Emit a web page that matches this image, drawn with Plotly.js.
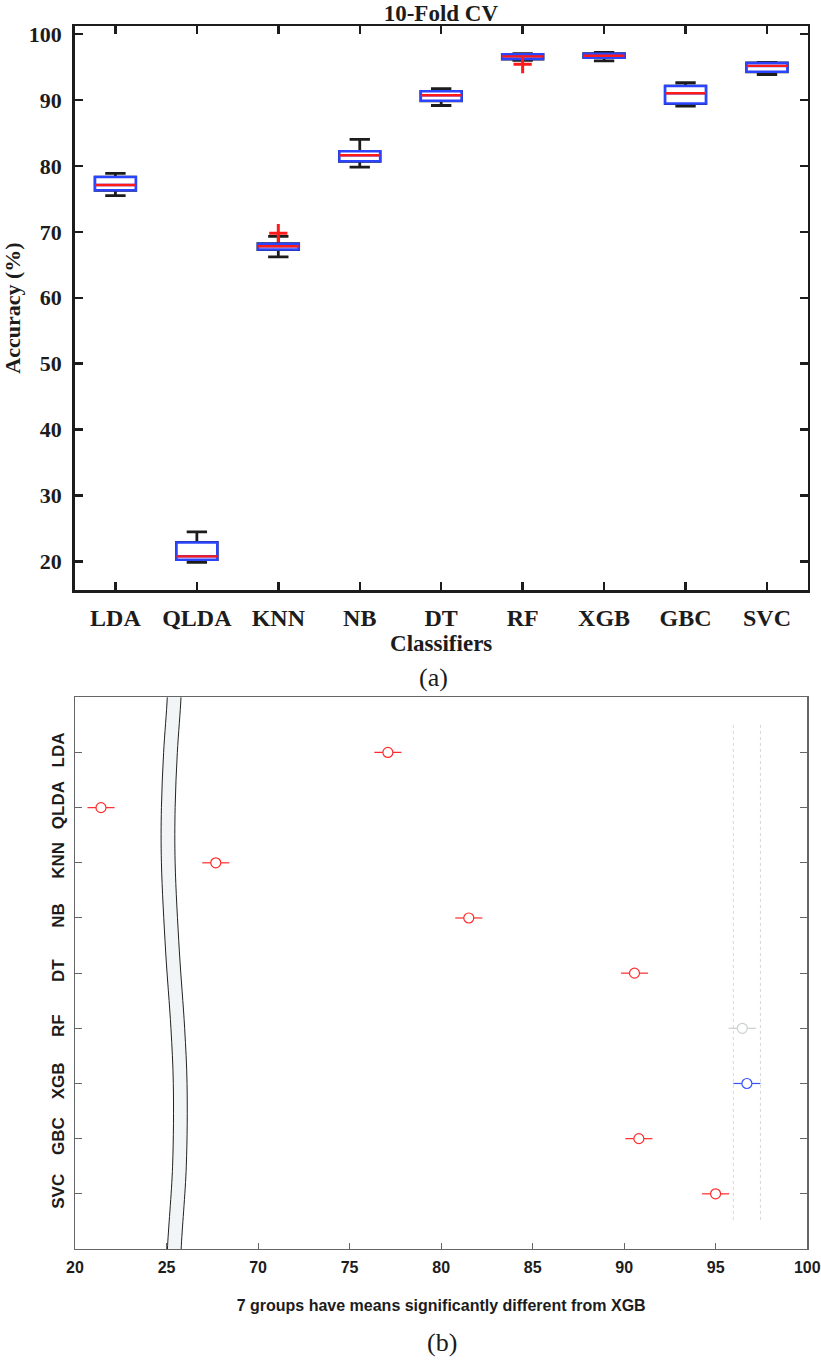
<!DOCTYPE html>
<html>
<head>
<meta charset="utf-8">
<script src="https://cdn.plot.ly/plotly-3.0.1.min.js"></script>
<style>html,body{margin:0;padding:0;background:#fff;}#chart{width:821px;height:1360px;}</style>
</head>
<body>
<div id="chart"></div>
<script>
// ---------- (a) 10-fold CV box plot ----------
const categories = ['LDA', 'QLDA', 'KNN', 'NB', 'DT', 'RF', 'XGB', 'GBC', 'SVC'];
const upperWhisker = [78.85, 24.5, 69.3, 84.0, 91.7, 97.0, 97.2, 92.6, 95.7];
const q3Values     = [78.3, 22.9, 68.2, 82.2, 91.3, 96.9, 97.0, 92.1, 95.6];
const medianValues = [77.1, 20.8, 67.8, 81.6, 90.7, 96.6, 96.7, 91.0, 95.15];
const q1Values     = [76.3, 20.3, 67.3, 80.7, 89.85, 96.2, 96.4, 89.45, 94.25];
const lowerWhisker = [75.5, 19.9, 66.2, 79.8, 89.15, 96.0, 95.9, 89.05, 93.85];
const outlierCats = ['KNN', 'RF'];
const outlierVals = [69.8, 95.4];
const yTicksA = [20, 30, 40, 50, 60, 70, 80, 90, 100];

// ---------- (b) multiple comparison of means ----------
const groupMeans = [77.09, 21.42, 67.69, 81.51, 90.56, 96.45, 96.70, 90.80, 94.99];
const ciHalfWidth = [0.74, 0.74, 0.74, 0.74, 0.74, 0.74, 0.74, 0.74, 0.74];
const groupStatus = ['sig', 'sig', 'sig', 'sig', 'sig', 'ns', 'ref', 'sig', 'sig'];
const xTickValsB = [20, 25, 70, 75, 80, 85, 90, 95, 100];
const xTickTextB = ['20', '25', '70', '75', '80', '85', '90', '95', '100'];
const axisBreakShift = 40;            // values above the break are drawn 40 units to the left
// axis-break band (left edge, in axis units)
const breakBandY    = [-0.4, 0, 1, 2, 3, 4.6, 6, 7, 8.5, 10, 10.4];
const breakBandLeft = [25.06, 25.04, 24.84, 24.72, 24.72, 24.95, 25.24, 25.37, 25.33, 25.05, 25.03];
const breakBandWidth = 0.75;

const toAxis = v => (v >= 45 ? v - axisBreakShift : v);

const serif = 'Liberation Serif, Times New Roman, serif';
const sans = 'Liberation Sans Narrow, Arial Narrow, Liberation Sans, Arial, sans-serif';
const blue = '#2b45ff', red = '#ff1a1a', ink = '#1c1c1c';

const traces = [];
// whiskers (black)
traces.push({
  type: 'box', x: categories, q1: q1Values, median: medianValues, q3: q3Values,
  lowerfence: lowerWhisker, upperfence: upperWhisker, width: 0.5, whiskerwidth: 0.5,
  boxpoints: false, line: {color: ink, width: 2.8}, fillcolor: 'rgba(0,0,0,0)',
  xaxis: 'x', yaxis: 'y', hoverinfo: 'skip'
});
// box (blue)
traces.push({
  type: 'box', x: categories, q1: q1Values, median: medianValues, q3: q3Values,
  lowerfence: q1Values, upperfence: q3Values, width: 0.5, whiskerwidth: 0,
  boxpoints: false, line: {color: blue, width: 2.5}, fillcolor: '#ffffff',
  xaxis: 'x', yaxis: 'y', hoverinfo: 'skip'
});
// median (red)
traces.push({
  type: 'box', x: categories, q1: medianValues, median: medianValues, q3: medianValues,
  lowerfence: medianValues, upperfence: medianValues, width: 0.5, whiskerwidth: 0,
  boxpoints: false, line: {color: red, width: 2.4}, fillcolor: 'rgba(0,0,0,0)',
  xaxis: 'x', yaxis: 'y', hoverinfo: 'skip'
});
// outliers
traces.push({
  type: 'scatter', mode: 'markers', x: outlierCats, y: outlierVals,
  marker: {symbol: 'cross-thin', size: 13, line: {color: red, width: 3}},
  xaxis: 'x', yaxis: 'y', hoverinfo: 'skip'
});

// (b) break band
const bandX = breakBandLeft.slice().concat(breakBandLeft.slice().reverse().map(v => v + breakBandWidth));
const bandY = breakBandY.concat(breakBandY.slice().reverse());
bandX.push(bandX[0]); bandY.push(bandY[0]);
traces.push({
  type: 'scatter', mode: 'lines', x: bandX, y: bandY, fill: 'toself',
  fillcolor: '#f1f5f5', line: {color: '#222', width: 1, shape: 'spline', smoothing: 1},
  xaxis: 'x2', yaxis: 'y2', hoverinfo: 'skip'
});
// comparison interval lines of reference group
const refIdx = groupStatus.indexOf('ref');
[groupMeans[refIdx] - ciHalfWidth[refIdx], groupMeans[refIdx] + ciHalfWidth[refIdx]].forEach(v => {
  traces.push({
    type: 'scatter', mode: 'lines', x: [toAxis(v), toAxis(v)], y: [0.5, categories.length + 0.5],
    line: {color: '#d6d6d6', width: 1, dash: 'dot'}, xaxis: 'x2', yaxis: 'y2', hoverinfo: 'skip'
  });
});
// group means with intervals
const statusColor = {sig: '#ff2a2a', ns: '#c9d0d0', ref: '#3552ff'};
['sig', 'ns', 'ref'].forEach(s => {
  const idx = groupStatus.map((g, i) => g === s ? i : -1).filter(i => i >= 0);
  traces.push({
    type: 'scatter', mode: 'markers',
    x: idx.map(i => toAxis(groupMeans[i])), y: idx.map(i => i + 1),
    error_x: {type: 'data', array: idx.map(i => ciHalfWidth[i]), color: statusColor[s], thickness: 1.2, width: 0},
    marker: {symbol: 'circle', size: 10, color: '#ffffff', line: {color: statusColor[s], width: 1.2}},
    xaxis: 'x2', yaxis: 'y2', hoverinfo: 'skip'
  });
});

const layout = {
  width: 821, height: 1360,
  margin: {l: 0, r: 0, t: 0, b: 0},
  paper_bgcolor: '#ffffff', plot_bgcolor: '#ffffff',
  showlegend: false, boxmode: 'overlay',
  title: {text: '10-Fold CV', font: {family: serif, size: 23, weight: 'bold', color: ink},
          x: 0.537, xanchor: 'center', xref: 'paper', y: 1 - 13 / 1360, yanchor: 'middle', yref: 'container'},
  xaxis: {
    domain: [74.7 / 821, 807.7 / 821], anchor: 'y', type: 'category', range: [-0.5, 8.5],
    showline: true, linecolor: ink, linewidth: 2.5, mirror: 'ticks',
    ticks: 'inside', ticklen: 8, tickwidth: 2.5, tickcolor: ink, ticklabelstandoff: 5,
    tickfont: {family: serif, size: 24, weight: 'bold', color: ink},
    showgrid: false, zeroline: false,
    title: {text: 'Classifiers', font: {family: serif, size: 23, weight: 'bold', color: ink}, standoff: 3}
  },
  yaxis: {
    domain: [1 - 590 / 1360, 1 - 26 / 1360], anchor: 'x', range: [15.7, 101.2],
    tickvals: yTicksA, ticktext: yTicksA.map(String),
    showline: true, linecolor: ink, linewidth: 2.5, mirror: 'ticks',
    ticks: 'inside', ticklen: 8, tickwidth: 2.5, tickcolor: ink, ticklabelstandoff: 6,
    tickfont: {family: serif, size: 22, weight: 'bold', color: ink},
    showgrid: false, zeroline: false,
    title: {text: 'Accuracy (%)', font: {family: serif, size: 22, weight: 'bold', color: ink}, standoff: 8}
  },
  xaxis2: {
    domain: [75 / 821, 807.3 / 821], anchor: 'y2', range: [20, 60],
    tickvals: xTickValsB.map(toAxis), ticktext: xTickTextB, ticklabeloverflow: 'allow',
    showline: true, linecolor: '#666', linewidth: 1.2, mirror: true, layer: 'below traces',
    ticks: 'inside', ticklen: 6, tickwidth: 1, tickcolor: '#666', ticklabelstandoff: 4,
    tickfont: {family: sans, size: 16, weight: 'bold', color: ink},
    showgrid: false, zeroline: false,
    title: {text: '7 groups have means significantly different from XGB',
            font: {family: sans, size: 16, weight: 'bold', color: ink}, standoff: 24}
  },
  yaxis2: {
    domain: [1 - 1249 / 1360, 1 - 697.3 / 1360], anchor: 'x2', range: [10, 0],
    tickvals: categories.map((c, i) => i + 1), ticktext: categories, tickangle: -90,
    showline: true, linecolor: '#666', linewidth: 1.5, mirror: 'ticks', layer: 'below traces',
    ticks: 'inside', ticklen: 7, tickwidth: 1, tickcolor: '#666', ticklabelstandoff: 3,
    tickfont: {family: sans, size: 17, weight: 'bold', color: ink},
    showgrid: false, zeroline: false
  },
  annotations: [
    {text: '(a)', xref: 'paper', yref: 'paper', x: 433 / 821, y: 1 - 677 / 1360, xanchor: 'center', yanchor: 'middle',
     showarrow: false, font: {family: serif, size: 26, color: ink}},
    {text: '(b)', xref: 'paper', yref: 'paper', x: 442 / 821, y: 1 - 1342 / 1360, xanchor: 'center', yanchor: 'middle',
     showarrow: false, font: {family: serif, size: 26, color: ink}}
  ]
};

Plotly.newPlot('chart', traces, layout, {staticPlot: true, displayModeBar: false});
</script>
</body>
</html>
